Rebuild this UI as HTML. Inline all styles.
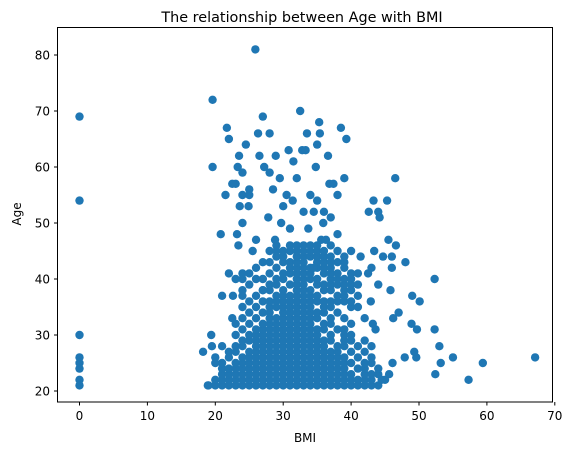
<!DOCTYPE html>
<html><head><meta charset="utf-8"><style>
body{margin:0;background:#fff;}
svg{display:block;font-family:"DejaVu Sans","Liberation Sans",sans-serif;}
</style></head><body>
<svg id="chart" width="568" height="455" viewBox="0 0 568 455">
<rect width="568" height="455" fill="#fff"/>
<text x="302" y="22" text-anchor="middle" font-size="14.4" fill="#000">The relationship between Age with BMI</text>
<g id="points"></g>
<rect x="57.5" y="27.5" width="495" height="374.5" fill="none" stroke="#000" stroke-width="1"/>
<g id="xticks"></g>
<g id="yticks"></g>
<text x="305" y="442" text-anchor="middle" font-size="12" fill="#000">BMI</text>
<text transform="translate(21,214) rotate(-90)" text-anchor="middle" font-size="12" fill="#000">Age</text>
</svg>
<script>
const xTicks=[0,10,20,30,40,50,60,70];
const yTicks=[20,30,40,50,60,70,80];
const outBmi=[0,0,0,0,0,0,0,0,25.9,19.6,32.5,27,35.3,21.7,38.5,26.3,33.5,35.4,28,22,39.3,24.5,35,30.8,32.8,28.9,33.3,26.5,36.6,23.5,31.5,19.6,23.3,27.2,24,28,34.8,29.5,32,39,46.5,23,36.8,37.4,22.5,25,28.5,34,21.5,24,25,30.5,38,43.3,45.3,31.4,23.6,24.9,30,35,36,33,42.6,44,44.2,27.8,37,34.5,24,35.9,26,20.8,23.2,28.8,29.7,31,33.7,35.6,36.3,38,45.5,46.6,40,43.4,23.4,25.5,30,41.4,44.7,46,48,37,27,22,24,42.5,43,46,34.5,23,26,40,52.3,44,21,22.6,27,45.8,49,50.1,42.9,47,48.9,52.3,49.7,43.2,43.6,46.2,18.2,18.9,19.4,19.5,20,53,52.4,53.2,55,59.4,57.3,67.1,49.6,49.3,47.9,46.1,45.6,44.5];
const outAge=[69,54,30,26,25,24,22,21,81,72,70,69,68,67,67,66,66,66,66,65,65,64,64,63,63,62,63,62,62,62,61,60,60,60,59,59,60,58,58,58,58,57,57,57,57,56,56,55,55,55,55,55,55,54,54,54,53,53,53,54,52,52,52,52,51,51,51,52,50,50,47,48,48,47,50,49,49,47,47,48,47,46,45,45,46,45,45,44,44,44,43,43,43,41,41,41,42,42,42,40,40,40,40,39,37,37,38,38,37,36,36,34,32,31,31,32,31,33,27,21,30,28,25,28,23,25,26,25,22,26,26,27,26,25,23,22];
const rowAge=[21,22,23,24,25,26,27,28,29,30,31,32,33,34,35,36,37,38,39,40,41,42,43,44,45,46];
const rowBmi=[
[19,20,21,22,23,24,25,26,27,28,29,30,31,32,33,34,35,36,37,38,39,40,41,42,43,44],
[20,21,22,23,24,25,26,27,28,29,30,31,32,33,34,35,36,37,38,39,40,41,42,43,45],
[21,22,23,24,25,26,27,28,29,30,31,32,33,34,35,36,37,38,39,40,42,43,44],
[21,22,23,24,25,26,27,28,29,30,31,32,33,34,35,36,37,38,39,41,42,44],
[21,23,24,25,26,27,28,29,30,31,32,33,34,35,36,37,38,39,40,42,43],
[20,22,24,25,26,27,28,29,30,31,32,33,34,35,36,37,38,39,41,43],
[22,23,25,26,27,28,29,30,31,32,33,34,35,36,37,38,40,42],
[21,23,24,26,27,28,29,30,31,32,33,34,35,36,38,39,41,43],
[24,25,26,27,28,29,30,31,32,33,34,35,36,37,39,40,42],
[23,25,26,27,28,29,30,31,32,33,34,35,37,39,40],
[24,26,27,28,29,30,31,32,33,34,35,36,38,39],
[23,25,27,28,29,30,31,32,33,34,36,37,40],
[22.5,24,26,28,29,30,31,32,33,34,35,37,39,42],
[25,27,28,30,31,32,33,34,35,36,38],
[24,26,28,29,30,31,32,33,34,36,37,40,41],
[25,27,28,29,30,31,32,33,34,35,36,37,38,39,40],
[24,26,29,30,31,32,33,34,35,38,39,41],
[24,27,28,30,32,33,34,36,37,39,40],
[25,28,29,31,32,33,35,36,37,38,39,40,41],
[24,27,29,30,32,33,34,35,37,38,39],
[25,28,30,31,32,33,34,36,37,38,40,41],
[26,29,31,32,33,34,35,36,37,39],
[28,30,31,32,33,35,36,38,39],
[29,30,32,33,34,35,36,37,39],
[28,29,31,32,33,34,35,36,38],
[29,31,32,33,34,35,37]];
const NS="http://www.w3.org/2000/svg";
const xs=v=>79.5+v*6.79;
const ys=v=>391-(v-20)*5.6;
const pg=document.getElementById('points');
function dot(b,a){
  const c=document.createElementNS(NS,'circle');
  c.setAttribute('cx',xs(b));c.setAttribute('cy',ys(a));c.setAttribute('r',4.2);
  c.setAttribute('fill','#1f77b4');
  
  
  pg.appendChild(c);
}
rowAge.forEach((a,i)=>rowBmi[i].forEach(b=>dot(b,a)));
outBmi.forEach((b,i)=>dot(b,outAge[i]));
const xg=document.getElementById('xticks');
xTicks.forEach(t=>{
  const l=document.createElementNS(NS,'line');
  l.setAttribute('x1',xs(t));l.setAttribute('x2',xs(t));l.setAttribute('y1',402);l.setAttribute('y2',405.5);l.setAttribute('stroke','#000');
  
  
  xg.appendChild(l);
  const tx=document.createElementNS(NS,'text');
  tx.setAttribute('x',xs(t));tx.setAttribute('y',420);tx.setAttribute('text-anchor','middle');tx.setAttribute('font-size','12');
  tx.textContent=t;
  
  
  xg.appendChild(tx);
});
const yg=document.getElementById('yticks');
yTicks.forEach(t=>{
  const l=document.createElementNS(NS,'line');
  l.setAttribute('x1',54);l.setAttribute('x2',57.5);l.setAttribute('y1',ys(t));l.setAttribute('y2',ys(t));l.setAttribute('stroke','#000');
  
  
  yg.appendChild(l);
  const tx=document.createElementNS(NS,'text');
  tx.setAttribute('x',50);tx.setAttribute('y',ys(t)+4.5);tx.setAttribute('text-anchor','end');tx.setAttribute('font-size','12');
  tx.textContent=t;
  
  
  yg.appendChild(tx);
});
</script>
</body></html>
